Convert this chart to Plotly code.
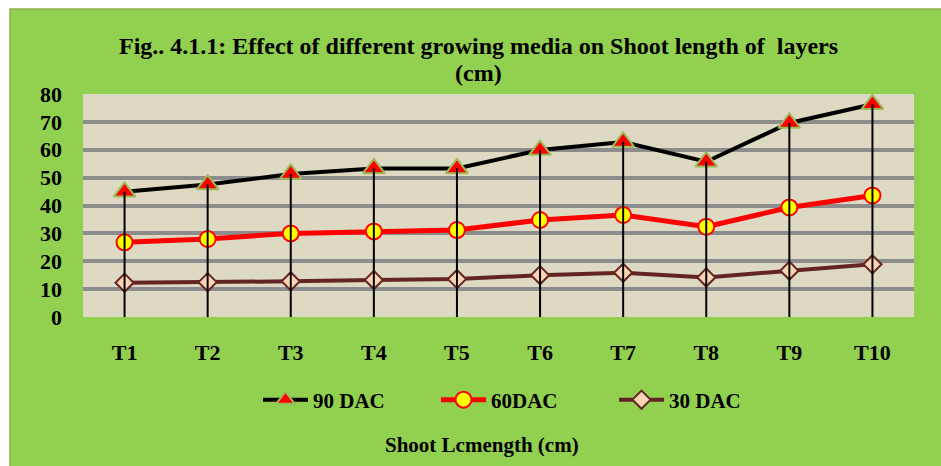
import plotly.graph_objects as go

categories = ["T1", "T2", "T3", "T4", "T5", "T6", "T7", "T8", "T9", "T10"]
dac90 = [44.9, 47.5, 51.3, 53.3, 53.3, 59.9, 62.8, 55.7, 69.6, 76.3]
dac60 = [26.8, 28.0, 30.0, 30.7, 31.2, 34.8, 36.6, 32.4, 39.3, 43.6]
dac30 = [12.3, 12.5, 12.8, 13.3, 13.6, 15.0, 15.9, 14.2, 16.6, 18.9]
y_ticks = [0, 10, 20, 30, 40, 50, 60, 70, 80]

W, H = 941, 466
L, R, T, B = 83, 914, 94, 317

def px_x(p):
    return (p - L) / (R - L)

def px_y(p):
    return (B - p) / (B - T)

FONT = "Liberation Serif"

fig = go.Figure()
fig.add_trace(go.Scatter(
    x=categories, y=dac90, name="90 DAC", mode="lines+markers",
    line=dict(color="black", width=4),
    marker=dict(symbol="triangle-up", size=19, color="#FF0000",
                line=dict(color="#9BBB59", width=2)),
))
fig.add_trace(go.Scatter(
    x=categories, y=dac60, name="60DAC", mode="lines+markers",
    line=dict(color="#FF0000", width=5),
    marker=dict(symbol="circle", size=16, color="#FFFF00",
                line=dict(color="#FF0000", width=2)),
))
fig.add_trace(go.Scatter(
    x=categories, y=dac30, name="30 DAC", mode="lines+markers",
    line=dict(color="#632523", width=4),
    marker=dict(symbol="diamond", size=14, color="#FBD4B4",
                line=dict(color="#632523", width=2)),
))
# drop lines from 90 DAC points down to the axis
fig.add_trace(go.Scatter(
    x=categories, y=dac90, mode="markers", showlegend=False, hoverinfo="skip",
    marker=dict(size=1, color="rgba(0,0,0,0)"),
    error_y=dict(type="data", symmetric=False, array=[0] * len(dac90),
                 arrayminus=dac90, width=0, thickness=2, color="black"),
))

shapes = [
    dict(type="rect", xref="paper", yref="paper", x0=px_x(-5), x1=px_x(10),
         y0=px_y(470), y1=px_y(-5), fillcolor="white", line=dict(width=0), layer="below"),
    dict(type="rect", xref="paper", yref="paper", x0=px_x(-5), x1=px_x(946),
         y0=px_y(9), y1=px_y(-5), fillcolor="white", line=dict(width=0), layer="below"),
    dict(type="rect", xref="paper", yref="paper", x0=px_x(10), x1=px_x(950),
         y0=px_y(475), y1=px_y(9), fillcolor="rgba(0,0,0,0)",
         line=dict(color="#8EAF4C", width=1.5), layer="below"),
]

fig.update_layout(
    width=W, height=H,
    margin=dict(l=L, r=W - R, t=T, b=H - B, pad=0),
    paper_bgcolor="#92D050",
    plot_bgcolor="#DDD9C3",
    font=dict(family=FONT, color="black", size=21),
    showlegend=True,
    legend=dict(orientation="h", x=px_x(525), xanchor="center", y=px_y(400),
                yanchor="middle", font=dict(family=FONT, size=21, weight="bold"),
                bgcolor="rgba(0,0,0,0)", itemwidth=45, tracegroupgap=0,
                entrywidth=118, entrywidthmode="pixels"),
    shapes=shapes,
    annotations=[
        dict(text="<b>Fig.. 4.1.1: Effect of different growing media on Shoot length of  layers</b>",
             xref="paper", yref="paper", x=px_x(478), y=px_y(46), showarrow=False,
             font=dict(family=FONT, size=24), xanchor="center", yanchor="middle"),
        dict(text="<b>(cm)</b>", xref="paper", yref="paper", x=px_x(478), y=px_y(73),
             showarrow=False, font=dict(family=FONT, size=24), xanchor="center", yanchor="middle"),
        dict(text="<b>Shoot Lcmength (cm)</b>", xref="paper", yref="paper", x=px_x(482),
             y=px_y(445), showarrow=False, font=dict(family=FONT, size=21),
             xanchor="center", yanchor="middle"),
    ],
)
fig.update_xaxes(
    type="category", range=[-0.5, len(categories) - 0.5],
    showgrid=False, zeroline=False, showline=False,
    tickfont=dict(family=FONT, size=22, weight="bold"), ticks="",
    ticklabelstandoff=20,
)
fig.update_yaxes(
    range=[0, 80], tickvals=y_ticks, showgrid=True, gridcolor="#8C8C8C", gridwidth=3.5,
    zeroline=False, showline=False, ticks="",
    tickfont=dict(family=FONT, size=22, weight="bold"), ticklabelstandoff=20,
)
fig.write_html("out.html", config={"displayModeBar": False},
               post_script="document.body.style.margin='0';document.body.style.padding='0';")
